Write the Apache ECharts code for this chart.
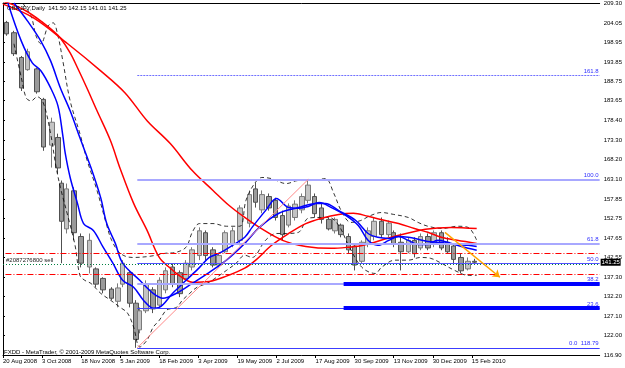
<!DOCTYPE html>
<html>
<head>
<meta charset="utf-8">
<script src="https://cdn.jsdelivr.net/npm/echarts@6/dist/echarts.min.js"></script>
<style>
html, body { margin: 0; padding: 0; background: #fff; }
#chart { width: 625px; height: 368px; }
</style>
</head>
<body>
<div id="chart"></div>
<script>
// x is a daily bar index, one date label every 32 bars
var dateLabels = ['20 Aug 2008', '3 Oct 2008', '18 Nov 2008', '5 Jan 2009', '18 Feb 2009', '3 Apr 2009',
    '19 May 2009', '2 Jul 2009', '17 Aug 2009', '30 Sep 2009', '13 Nov 2009', '30 Dec 2009', '15 Feb 2010'];
var dateTicks = [0, 32, 64, 96, 128, 160, 192, 224, 256, 288, 320, 352, 384];
var priceTicks = [116.90, 122.00, 127.10, 132.20, 137.30, 142.55, 147.65, 152.75, 157.85, 163.10,
    168.20, 173.30, 178.40, 183.65, 188.75, 193.85, 198.95, 204.05, 209.30];

// [bar, open, close, low, high]
var candles = [
    [3, 204.2, 201.2, 200.7, 204.6], [9, 201.5, 196.0, 195.4, 202.0], [15, 195.0, 187.0, 186.2, 195.4],
    [20, 191.8, 196.5, 191.5, 197.3], [28, 192.0, 186.0, 185.5, 192.3], [33, 184.0, 171.5, 170.5, 184.4],
    [40, 172.0, 178.0, 166.1, 179.2], [45, 174.0, 166.0, 164.5, 175.0], [48, 162.0, 152.0, 141.0, 162.7],
    [52, 150.0, 160.5, 148.8, 161.9], [58, 160.0, 149.0, 147.0, 160.9], [64, 148.0, 141.0, 139.9, 148.8],
    [71, 140.0, 147.0, 138.3, 148.8], [76, 139.5, 135.5, 134.7, 139.9], [82, 137.0, 134.0, 133.1, 137.3],
    [89, 134.2, 131.8, 131.3, 134.7], [94, 131.0, 134.5, 129.4, 135.7], [98, 135.5, 141.0, 134.7, 141.8],
    [104, 138.5, 130.5, 129.4, 139.1], [109, 130.5, 121.0, 118.79, 131.3], [112, 123.5, 128.5, 122.6, 129.4],
    [117, 128.5, 135.5, 127.9, 136.5], [123, 134.0, 129.0, 127.9, 134.7], [128, 130.0, 136.5, 129.4, 137.3],
    [133, 134.0, 139.0, 133.1, 139.9], [139, 140.0, 135.5, 134.7, 141.0], [145, 138.5, 133.0, 132.1, 139.1],
    [150, 137.0, 141.0, 136.5, 141.8], [155, 140.0, 144.5, 139.1, 145.2], [161, 143.0, 149.5, 141.8, 150.4],
    [166, 149.0, 143.0, 141.8, 149.6], [172, 144.5, 140.5, 139.9, 145.2], [177, 140.5, 143.0, 139.9, 143.6],
    [182, 144.0, 149.0, 143.6, 149.6], [188, 146.0, 149.5, 145.2, 150.4], [194, 147.0, 155.5, 145.7, 156.2],
    [202, 151.5, 159.0, 150.4, 160.1], [207, 160.5, 157.0, 155.6, 162.2], [212, 155.0, 159.0, 154.1, 160.1],
    [218, 158.5, 155.5, 154.8, 159.3], [223, 157.5, 153.0, 152.2, 158.2], [229, 153.5, 148.5, 147.0, 154.8],
    [234, 151.0, 156.0, 150.4, 156.7], [239, 153.0, 156.5, 152.2, 157.5], [245, 155.0, 158.5, 154.1, 159.3],
    [250, 157.5, 161.5, 156.7, 163.0], [255, 158.5, 154.0, 153.0, 159.3], [261, 155.5, 152.5, 151.4, 156.7],
    [267, 152.5, 150.0, 149.6, 153.0], [272, 149.5, 152.5, 148.8, 153.0], [277, 151.0, 148.5, 147.8, 151.4],
    [283, 148.0, 144.5, 143.6, 148.8], [288, 145.5, 140.5, 139.1, 146.2], [294, 141.5, 146.5, 141.0, 147.0],
    [299, 146.0, 149.5, 145.2, 150.4], [304, 148.0, 152.0, 147.0, 153.0], [310, 152.0, 148.5, 147.8, 153.0],
    [316, 148.5, 151.5, 147.8, 152.2], [320, 149.0, 146.0, 145.2, 149.6], [326, 146.5, 144.0, 139.1, 148.8],
    [332, 144.0, 147.0, 143.6, 147.8], [337, 147.0, 143.5, 142.5, 147.8], [342, 145.0, 148.0, 144.4, 148.8],
    [348, 148.0, 145.0, 144.4, 148.8], [353, 146.0, 149.0, 145.2, 149.6], [359, 149.0, 145.0, 144.4, 149.6],
    [364, 146.5, 144.0, 143.6, 147.8], [369, 145.5, 142.0, 141.0, 146.2], [375, 142.5, 139.0, 138.3, 143.6],
    [381, 139.5, 141.5, 139.1, 142.5], [386, 141.50, 141.25, 141.01, 142.15]
];

// moving averages, [bar, price]
var maRedLong = [[0, 209.0], [25, 205.4], [53, 198.6], [80, 191.5], [100, 185.7], [118, 178.4], [137, 172.4],
    [155, 165.3], [172, 160.1], [185, 156.2], [198, 153.0], [210, 150.4], [229, 147.0], [248, 145.4],
    [269, 144.9], [283, 145.2], [295, 145.7], [318, 147.8], [346, 149.9], [367, 150.4], [388, 150.1]];
var maRedMid = [[1, 209.6], [7, 209.0], [19, 207.2], [33, 204.1], [41, 202.0], [47, 200.1], [55, 196.2],
    [61, 192.3], [69, 186.8], [77, 181.0], [88, 173.2], [96, 165.8], [107, 156.7], [118, 149.6], [128, 142.5],
    [137, 139.7], [145, 137.6], [155, 136.0], [169, 136.2], [183, 137.6], [198, 139.7], [207, 141.8],
    [220, 145.7], [234, 148.8], [248, 151.4], [261, 152.8], [275, 153.8], [287, 154.1], [299, 153.3],
    [313, 152.2], [324, 151.4], [337, 150.1], [348, 149.1], [359, 147.8], [372, 147.0], [388, 146.2]];
var maBlueFast = [[4, 209.3], [15, 199.3], [24, 193.6], [31, 191.5], [39, 187.0], [45, 182.3], [49, 174.5],
    [51, 169.8], [55, 163.5], [61, 156.7], [66, 151.4], [74, 149.6], [82, 145.2], [90, 141.0], [98, 136.5],
    [107, 134.7], [115, 131.3], [123, 129.2], [128, 129.4], [139, 133.1], [150, 136.5], [161, 139.9],
    [169, 142.5], [177, 143.6], [188, 145.7], [198, 147.8], [204, 150.4], [215, 154.8], [224, 158.0],
    [234, 155.6], [242, 155.4], [250, 155.9], [259, 156.9], [269, 155.6], [281, 153.5], [291, 150.9],
    [299, 147.0], [307, 145.7], [316, 147.0], [324, 148.0], [332, 147.0], [340, 145.9], [348, 145.9],
    [356, 147.0], [364, 146.5], [372, 145.7], [381, 144.9], [388, 144.4]];
var maBlueSlow = [[9, 209.3], [20, 204.6], [31, 199.3], [39, 194.1], [47, 187.0], [55, 181.0], [63, 173.9],
    [72, 166.1], [80, 158.2], [85, 151.4], [92, 146.2], [98, 141.0], [112, 136.5], [123, 133.1], [131, 131.8],
    [142, 133.1], [155, 135.7], [169, 138.6], [183, 141.8], [198, 146.2], [210, 150.4], [226, 154.1],
    [242, 155.6], [256, 156.7], [264, 156.7], [275, 154.8], [289, 152.2], [299, 148.8], [307, 147.8],
    [316, 147.5], [324, 148.0], [332, 147.8], [340, 147.3], [348, 146.7], [356, 146.5], [364, 146.2],
    [372, 145.9], [381, 145.7], [388, 145.4]];

// bollinger bands
var bandUpper = [[16, 209.3], [23, 205.9], [27, 200.7], [31, 198.6], [37, 203.3], [41, 204.1], [45, 200.7],
    [49, 194.1], [55, 183.6], [63, 175.0], [69, 167.9], [77, 160.1], [85, 150.9], [89, 147.0], [96, 143.6],
    [106, 142.5], [120, 142.8], [133, 143.6], [141, 143.8], [150, 145.2], [155, 149.1], [161, 151.4],
    [172, 151.4], [183, 150.7], [194, 150.7], [199, 157.5], [206, 161.9], [212, 163.5], [220, 163.2],
    [232, 161.9], [242, 162.7], [253, 162.7], [264, 163.2], [271, 159.3], [277, 154.8], [285, 151.7],
    [293, 152.2], [301, 153.5], [310, 154.3], [320, 153.8], [332, 153.0], [340, 151.7], [348, 150.7],
    [360, 150.1], [372, 150.7], [381, 150.4], [388, 147.0]];
var bandLower = [[9, 198.6], [15, 189.7], [19, 184.4], [23, 183.6], [28, 184.7], [33, 183.1], [39, 175.0],
    [43, 167.1], [47, 160.9], [53, 153.5], [59, 145.7], [63, 137.8], [67, 136.5], [72, 135.7], [80, 133.1],
    [88, 131.3], [96, 129.4], [102, 127.9], [107, 124.2], [112, 119.0], [118, 120.8], [123, 124.2],
    [128, 126.0], [134, 128.7], [142, 129.4], [147, 131.3], [153, 133.1], [159, 134.7], [167, 135.7],
    [175, 137.3], [183, 139.1], [191, 141.0], [198, 143.1], [204, 142.5], [215, 147.0], [224, 148.8],
    [232, 148.8], [242, 149.1], [250, 152.8], [259, 153.0], [267, 153.0], [275, 150.9], [283, 145.7],
    [294, 139.9], [305, 138.3], [310, 139.9], [321, 141.8], [332, 141.8], [342, 142.5], [350, 142.3],
    [359, 141.0], [370, 139.1], [381, 137.8], [388, 137.8]];

// fibonacci retracement from the low to the high
var fibLevels = ['0.0  118.79', '23.6', '38.2', '50.0', '61.8', '100.0', '161.8'];
var fibPrices = [118.79, 129.22, 135.68, 140.90, 146.11, 163.00, 190.32];
var fibLow = [110, 118.79];
var fibHigh = [250, 163.00];

var redLevels = [143.65, 138.05];
var supportLevels = [135.68, 129.22];
var orderPrice = 140.72;
var lastPrice = 141.25;
var arrowFrom = [362, 149.1];
var arrowTo = [407, 137.3];

var XMAX = 488.7;
var FONT = 'Liberation Sans';

var fibStyle = [
    {color: '#3c3cff', width: 1},
    {color: '#3c3cff', width: 1},
    {color: '#a8a8ff', width: 2},
    {color: '#5050ff', width: 1},
    {color: '#a8a8ff', width: 2},
    {color: '#a8a8ff', width: 2},
    {color: '#7070ff', width: 1, type: [2, 1]}
];

function lineSeries(data, color, width, type) {
    return {
        type: 'line', data: data, smooth: 0.35, showSymbol: false, silent: true, z: 4,
        lineStyle: {color: color, width: width, type: type || 'solid'}
    };
}

var levelLines = [];
for (var i = 0; i < fibPrices.length; i++) {
    var st = fibStyle[i];
    levelLines.push([{
        coord: [fibLow[0], fibPrices[i]],
        lineStyle: {color: st.color, width: st.width, type: st.type || 'solid'},
        label: {show: true, position: 'insideEndTop', formatter: fibLevels[i], color: '#3030ff',
            fontSize: 6, fontFamily: FONT, distance: [1, 1]}
    }, {coord: [XMAX, fibPrices[i]]}]);
}
for (var j = 0; j < supportLevels.length; j++) {
    levelLines.push([{coord: [279, supportLevels[j]], lineStyle: {color: '#0000ff', width: 4, type: 'solid'}, label: {show: false}},
        {coord: [XMAX, supportLevels[j]]}]);
}
for (var k = 0; k < redLevels.length; k++) {
    levelLines.push([{coord: [2, redLevels[k]], lineStyle: {color: '#ff0000', width: 1, type: [6, 2, 1, 2]}, label: {show: false}},
        {coord: [XMAX, redLevels[k]]}]);
}
levelLines.push([{
    coord: [0, orderPrice], lineStyle: {color: '#008040', width: 1, type: [1, 2]},
    label: {show: true, position: 'insideStartTop', formatter: '#2087276800 sell', color: '#222',
        fontSize: 6, fontFamily: FONT, distance: [3, 1]}
}, {coord: [XMAX, orderPrice]}]);
levelLines.push([{coord: fibLow, lineStyle: {color: '#ff8a8a', width: 1, type: 'solid'}, label: {show: false}}, {coord: fibHigh}]);

var hiddenAxis = {
    show: true, axisLine: {show: true, lineStyle: {color: '#000'}},
    axisTick: {show: false}, axisLabel: {show: false}, splitLine: {show: false}
};

var chart = echarts.init(document.getElementById('chart'));

var option = {
    animation: false,
    backgroundColor: '#fff',
    grid: {left: 2, right: 22, top: 2, bottom: 13, show: false},
    xAxis: [{
        type: 'value', min: 0, max: XMAX,
        splitLine: {show: false},
        axisLine: {show: true, lineStyle: {color: '#000'}},
        axisTick: {show: true, customValues: dateTicks, length: 3, lineStyle: {color: '#000'}},
        axisLabel: {
            customValues: dateTicks, align: 'left', margin: 3, fontSize: 6, fontFamily: FONT, color: '#000',
            formatter: function (v) {
                return dateLabels[dateTicks.indexOf(Math.round(v))] || '';
            }
        }
    }, echarts.util.merge({type: 'value', position: 'top', min: 0, max: XMAX}, hiddenAxis)],
    yAxis: [{
        type: 'value', position: 'right', min: 116.9, max: 209.3,
        splitLine: {show: false},
        axisLine: {show: true, lineStyle: {color: '#808080', type: 'dotted'}},
        axisTick: {show: true, customValues: priceTicks, length: 2, lineStyle: {color: '#000'}},
        axisLabel: {
            customValues: priceTicks, margin: 4, fontSize: 6, fontFamily: FONT, color: '#000',
            formatter: function (v) {
                return v.toFixed(2);
            }
        }
    }, echarts.util.merge({type: 'value', position: 'left', min: 116.9, max: 209.3}, hiddenAxis)],
    graphic: [
        {type: 'text', left: 7, top: 5, z: 10,
            style: {text: 'GBPJPY,Daily  141.50 142.15 141.01 141.25', font: '6px ' + FONT, fill: '#000'}},
        {type: 'text', left: 4, top: 349, z: 10,
            style: {text: 'FXDD - MetaTrader, \u00a9 2001-2009 MetaQuotes Software Corp.', font: '6px ' + FONT, fill: '#000'}}
    ],
    series: [
        {
            type: 'line', data: [], silent: true, z: 2,
            markLine: {silent: true, symbol: ['none', 'none'], animation: false,
                lineStyle: {type: 'solid'}, data: levelLines},
            markPoint: {
                silent: true, animation: false,
                data: [{
                    coord: [XMAX, lastPrice], symbol: 'rect', symbolSize: [20, 7], symbolOffset: [11, 0],
                    itemStyle: {color: '#000'},
                    label: {show: true, position: 'inside', formatter: lastPrice.toFixed(2), color: '#fff',
                        fontSize: 6, fontFamily: FONT}
                }]
            }
        },
        {
            type: 'candlestick', data: candles, encode: {x: 0, y: [1, 2, 3, 4]}, barWidth: 5, silent: true, z: 3,
            itemStyle: {color: '#c4c4c4', color0: '#9a9a9a', borderColor: '#7a7a7a', borderColor0: '#505050', borderWidth: 1}
        },
        lineSeries(bandUpper, '#000', 0.8, [4, 3]),
        lineSeries(bandLower, '#000', 0.8, [4, 3]),
        lineSeries(maRedLong, '#ff0000', 1.5),
        lineSeries(maRedMid, '#ff0000', 1.5),
        lineSeries(maBlueSlow, '#0000ff', 1.5),
        lineSeries(maBlueFast, '#0000ff', 1.5),
        {
            type: 'line', data: [], silent: true, z: 6,
            markLine: {
                silent: true, symbol: ['none', 'arrow'], symbolSize: 7, animation: false,
                lineStyle: {color: '#ffa500', width: 1.5, type: 'solid'}, label: {show: false},
                data: [[{coord: arrowFrom}, {coord: arrowTo}]]
            }
        }
    ]
};

chart.setOption(option);
</script>
</body>
</html>
